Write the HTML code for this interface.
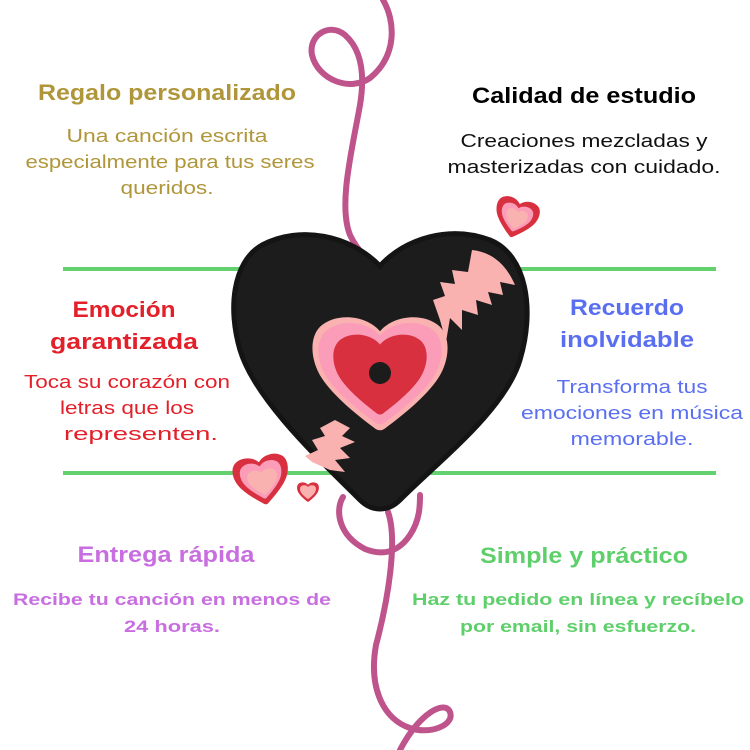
<!DOCTYPE html>
<html><head><meta charset="utf-8"><style>html,body{margin:0;padding:0;background:#fff}svg{display:block}</style></head>
<body>
<svg width="750" height="750" viewBox="0 0 750 750" xmlns="http://www.w3.org/2000/svg" font-family="Liberation Sans, sans-serif">
<defs>
<path id="hp" d="M0,-0.72 C-0.2,-1 -0.65,-1.05 -0.88,-0.8 C-1.05,-0.6 -1.02,-0.2 -0.85,0.1 C-0.65,0.45 -0.25,0.8 -0.08,0.95 C-0.03,1 0.03,1 0.08,0.95 C0.25,0.8 0.65,0.45 0.85,0.1 C1.02,-0.2 1.05,-0.6 0.88,-0.8 C0.65,-1.05 0.2,-1 0,-0.72 Z"/>
</defs>
<line x1="63" y1="269" x2="716" y2="269" stroke="#62d16e" stroke-width="4"/>
<line x1="63" y1="473" x2="716" y2="473" stroke="#62d16e" stroke-width="4"/>
<g fill="none" stroke="#bf548c" stroke-width="6" stroke-linecap="round">
<path d="M383,0 C395,20 398,55 370,78 C350,92 318,80 312,55 C308,35 330,22 345,35 C362,50 365,75 360,105 C352,150 338,205 350,235 C358,252 370,262 380,268"/>
<path d="M343,497 C335,510 338,535 365,549 C385,557 400,550 410,535 C420,520 420,505 420,495"/>
<path d="M388,512 C398,540 388,600 376,645 C368,690 385,720 410,728 C430,735 455,725 450,712 C445,700 420,712 400,750"/>
</g>
<!-- big heart -->
<path d="M380,266 C350,235 300,225 262,245 C232,262 228,310 240,350 C255,400 320,460 360,500 C372,512 388,512 400,500 C440,460 505,410 520,360 C535,310 527,255 490,240 C450,225 405,238 380,266 Z" fill="#1c1c1c" stroke="#141414" stroke-width="5"/>
<!-- pink zigzag patches -->
<path d="M472,250 C490,252 505,262 515,285 L500,282 L503,295 L488,292 L492,305 L476,300 L478,315 L462,310 L462,330 L450,318 L446,342 L440,320 L433,300 L445,296 L440,282 L455,284 L452,270 L468,272 Z" fill="#f9b2b0"/>
<path d="M335,420 L350,428 L342,436 L355,442 L340,448 L350,458 L335,460 L345,472 L330,470 L312,462 L305,456 L318,450 L312,440 L325,436 L320,428 Z" fill="#f9b2b0"/>
<!-- inner heart -->
<g transform="translate(380,373) scale(68,58)"><use href="#hp" fill="#f9b2b0"/></g>
<g transform="translate(380,373) scale(62,52)"><use href="#hp" fill="#fb9cb9"/></g>
<g transform="translate(380,374) scale(47,41)"><use href="#hp" fill="#d93040"/></g>
<circle cx="380" cy="373" r="11" fill="#1c1c1c"/>
<!-- small hearts -->
<g transform="translate(516,218) rotate(15) scale(22,20)"><use href="#hp" fill="#d93040"/></g>
<g transform="translate(516,218) rotate(15) scale(16,14)"><use href="#hp" fill="#fb9cb9"/></g>
<g transform="translate(516,219) rotate(15) scale(11,10)"><use href="#hp" fill="#f9b2b0"/></g>
<g transform="translate(262,480) rotate(-10) scale(28,25)"><use href="#hp" fill="#d93040"/></g>
<g transform="translate(262,480) rotate(-10) scale(21,19)"><use href="#hp" fill="#fb9cb9"/></g>
<g transform="translate(263,482) rotate(-10) scale(15,13)"><use href="#hp" fill="#f9b2b0"/></g>
<g transform="translate(308,492) scale(11,10)"><use href="#hp" fill="#d93040"/></g>
<g transform="translate(308,492) scale(8,7)"><use href="#hp" fill="#f9b2b0"/></g>
<!-- texts -->
<g text-anchor="middle" lengthAdjust="spacingAndGlyphs">
<text x="167" y="100" font-size="22" font-weight="bold" fill="#b0963a" textLength="258" lengthAdjust="spacingAndGlyphs">Regalo personalizado</text>
<g font-size="18" fill="#b0963a">
<text x="167" y="142" textLength="201" lengthAdjust="spacingAndGlyphs">Una canción escrita</text>
<text x="170" y="168" textLength="289" lengthAdjust="spacingAndGlyphs">especialmente para tus seres</text>
<text x="167" y="194" textLength="93" lengthAdjust="spacingAndGlyphs">queridos.</text></g>
<text x="584" y="103" font-size="22" font-weight="bold" fill="#000" textLength="224" lengthAdjust="spacingAndGlyphs">Calidad de estudio</text>
<g font-size="18" fill="#111">
<text x="584" y="147" textLength="247" lengthAdjust="spacingAndGlyphs">Creaciones mezcladas y</text>
<text x="584" y="173" textLength="273" lengthAdjust="spacingAndGlyphs">masterizadas con cuidado.</text></g>
<g font-size="22" font-weight="bold" fill="#e3202a">
<text x="124" y="317" textLength="103" lengthAdjust="spacingAndGlyphs">Emoción</text>
<text x="124" y="349" textLength="148" lengthAdjust="spacingAndGlyphs">garantizada</text></g>
<g font-size="18" fill="#e3202a">
<text x="127" y="388" textLength="206" lengthAdjust="spacingAndGlyphs">Toca su corazón con</text>
<text x="127" y="414" textLength="134" lengthAdjust="spacingAndGlyphs">letras que los</text>
<text x="141" y="440" textLength="154" lengthAdjust="spacingAndGlyphs">representen.</text></g>
<g font-size="22" font-weight="bold" fill="#5a6ff0">
<text x="627" y="315" textLength="114" lengthAdjust="spacingAndGlyphs">Recuerdo</text>
<text x="627" y="347" textLength="134" lengthAdjust="spacingAndGlyphs">inolvidable</text></g>
<g font-size="18" fill="#5a6ff0">
<text x="632" y="393" textLength="151" lengthAdjust="spacingAndGlyphs">Transforma tus</text>
<text x="632" y="419" textLength="222" lengthAdjust="spacingAndGlyphs">emociones en música</text>
<text x="632" y="445" textLength="123" lengthAdjust="spacingAndGlyphs">memorable.</text></g>
<text x="166" y="562" font-size="22" font-weight="bold" fill="#c86ee0" textLength="177" lengthAdjust="spacingAndGlyphs">Entrega rápida</text>
<g font-size="17" font-weight="bold" fill="#c86ee0">
<text x="172" y="605" textLength="318" lengthAdjust="spacingAndGlyphs">Recibe tu canción en menos de</text>
<text x="172" y="632" textLength="96" lengthAdjust="spacingAndGlyphs">24 horas.</text></g>
<text x="584" y="563" font-size="22" font-weight="bold" fill="#5ecf6b" textLength="208" lengthAdjust="spacingAndGlyphs">Simple y práctico</text>
<g font-size="17" font-weight="bold" fill="#5ecf6b">
<text x="578" y="605" textLength="332" lengthAdjust="spacingAndGlyphs">Haz tu pedido en línea y recíbelo</text>
<text x="578" y="632" textLength="236" lengthAdjust="spacingAndGlyphs">por email, sin esfuerzo.</text></g>
</g>
</svg>
</body></html>
